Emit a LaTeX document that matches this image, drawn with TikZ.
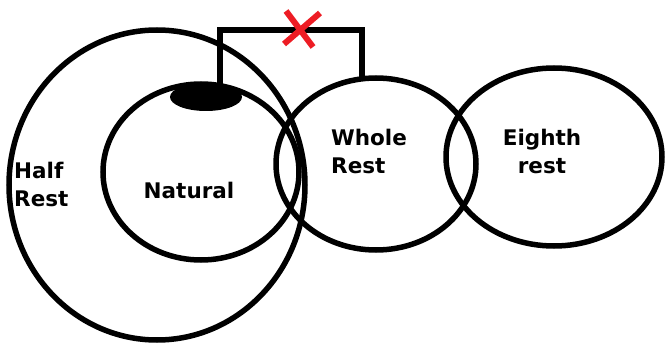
\documentclass[tikz,border=0pt]{standalone}
\usepackage{fontspec}
\setmainfont{DejaVu Sans}
\usetikzlibrary{shapes.geometric,calc}
\definecolor{xred}{RGB}{237,28,36}
\begin{document}
\begin{tikzpicture}[x=1pt,y=-1pt,
  ring/.style={draw=black,line width=5.5pt,ellipse,inner sep=0pt,outer sep=0pt},
  lbl/.style={font=\bfseries\fontsize{21.5}{28}\selectfont,text=black,align=left,inner sep=0pt},
  stem/.style={draw=black,line width=5.5pt,line join=miter}]
\useasboundingbox (0,0) rectangle (670,345);
\node[ring,minimum width=296pt,minimum height=310pt] (half) at (157,185) {};
\node[ring,minimum width=196pt,minimum height=176pt] (natural) at (201,172) {};
\node[ring,minimum width=200pt,minimum height=172pt] (whole) at (376,164) {};
\node[ring,minimum width=216pt,minimum height=178pt] (eighth) at (554,157) {};
\node[ellipse,fill=black,minimum width=72pt,minimum height=28pt,inner sep=0pt] (head) at (206,97) {};
\coordinate (s1) at (220,92);
\coordinate (s2) at (362,80);
\coordinate (top) at (0,30);
\draw[stem] (s1) -- (s1 |- top) -- (s2 |- top) -- (s2);
\coordinate (xc) at (300,28);
\draw[xred,line width=6pt] ($(xc)+(-14,-17)$) -- ($(xc)+(13,19)$);
\draw[xred,line width=6pt] ($(xc)+(20,-15)$) -- ($(xc)+(-16,16)$);
\node[lbl,anchor=west] (tHalf) at (14,184) {Half\\Rest};
\node[lbl] (tNat) at (189,190) {Natural};
\node[lbl,anchor=west] (tWhole) at (331,151) {Whole\\Rest};
\node[lbl,align=center] (tEighth) at (542,151) {Eighth\\rest};
\end{tikzpicture}
\end{document}
